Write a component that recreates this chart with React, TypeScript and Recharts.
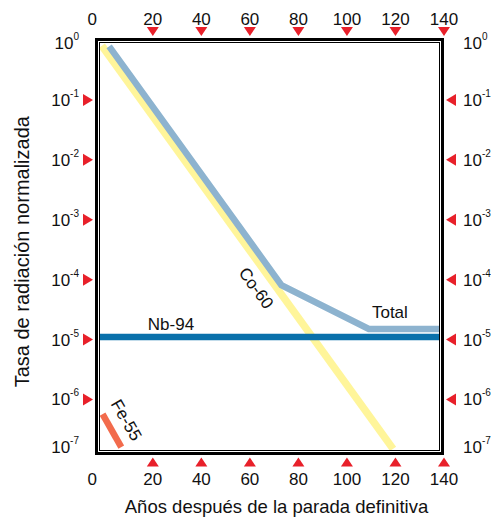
import { LineChart, Line, XAxis, YAxis, ReferenceDot, Label } from "recharts"

// years after final shutdown (x) and normalized rate ticks (y, log)
const years = [0, 20, 40, 60, 80, 100, 120, 140]
const rateTicks = [1, 1e-1, 1e-2, 1e-3, 1e-4, 1e-5, 1e-6, 1e-7]

const co60Years = [-1, 119]
const co60Rate = [0.8, 1.5e-7]
const totalYears = [2, 73, 109, 140]
const totalRate = [0.78, 8.1e-5, 1.5e-5, 1.5e-5]
const nb94Years = [-3, 140]
const nb94Rate = [1.1e-5, 1.1e-5]
const fe55Years = [-0.7, 7]
const fe55Rate = [5.7e-7, 1.6e-7]

const noteText = ["Co-60", "Total", "Nb-94", "Fe-55"]
const noteYears = [62.5, 117.7, 27.5, 9]
const noteRates = [7.2e-5, 2.8e-5, 1.8e-5, 4.5e-7]
const noteAngles = [54, 0, 0, 60]

const RED = "#e8202a"

const toPoints = (xs: number[], ys: number[]) => xs.map((x, i) => ({ x, y: ys[i] }))

function XTick(props: any) {
  const { x, y, payload, side } = props
  const v = payload.value
  const first = v === years[0]
  const lx = first ? x - 12 : x
  if (side === "bottom") {
    return (
      <g>
        {!first && <polygon points={`${x - 6},${y + 7} ${x + 6},${y + 7} ${x},${y - 2}`} fill={RED} />}
        <text x={lx} y={y + 26} textAnchor="middle" fontSize={17} fill="#111">{v}</text>
      </g>
    )
  }
  return (
    <g>
      {!first && <polygon points={`${x - 6},${y - 13} ${x + 6},${y - 13} ${x},${y - 4}`} fill={RED} />}
      <text x={lx} y={y - 15} textAnchor="middle" fontSize={17} fill="#111">{v}</text>
    </g>
  )
}

function YTick(props: any) {
  const { x, y, payload, side } = props
  const v = payload.value
  const exp = Math.round(Math.log10(v))
  const end = v === rateTicks[0] || v === rateTicks[rateTicks.length - 1]
  let ly = y
  if (v === rateTicks[0]) ly = y + 3
  if (v === rateTicks[rateTicks.length - 1]) ly = y - 12
  const label = (tx: number, anchor: string) => (
    <text x={tx} y={ly + 6} textAnchor={anchor} fontSize={17} fill="#111">
      10<tspan dy={-9} fontSize={10}>{exp}</tspan>
    </text>
  )
  if (side === "left") {
    return (
      <g>
        {!end && <polygon points={`${x - 14},${y - 6} ${x - 14},${y + 6} ${x - 4},${y}`} fill={RED} />}
        {label(x - 18, "end")}
      </g>
    )
  }
  return (
    <g>
      {!end && <polygon points={`${x + 12},${y - 6} ${x + 12},${y + 6} ${x + 2},${y}`} fill={RED} />}
      {label(x + 19, "start")}
    </g>
  )
}

export default function App() {
  return (
    <div style={{ position: "absolute", left: 0, top: 0, width: 491, height: 517, background: "#fff", fontFamily: "'Liberation Sans', Arial, sans-serif" }}>
      <LineChart width={491} height={517} margin={{ top: 39, right: 46, bottom: 56.6, left: 96 }}>
        <XAxis xAxisId="b" dataKey="x" type="number" domain={[-3, 140]} ticks={years} allowDataOverflow
          height={1} tickSize={0} tickMargin={0} axisLine={false} tickLine={false} interval={0}
          tick={(p: any) => <XTick {...p} side="bottom" />}>
          <Label content={(p: any) => {
            const vb = p.viewBox
            return <text x={vb.x + vb.width / 2 + 6} y={513} textAnchor="middle" fontSize={18.5} fill="#111">Años después de la parada definitiva</text>
          }} />
        </XAxis>
        <XAxis xAxisId="t" dataKey="x" orientation="top" type="number" domain={[-3, 140]} ticks={years} allowDataOverflow
          height={1} tickSize={0} tickMargin={0} axisLine={false} tickLine={false} interval={0}
          tick={(p: any) => <XTick {...p} side="top" />} />
        <YAxis yAxisId="l" type="number" scale="log" domain={[1e-7, 1]} ticks={rateTicks} allowDataOverflow
          width={1} tickSize={0} tickMargin={0} axisLine={false} tickLine={false} interval={0}
          tick={(p: any) => <YTick {...p} side="left" />}>
          <Label content={(p: any) => {
            const vb = p.viewBox
            const cx = 22
            const cy = vb.y + vb.height / 2 + 2
            return <text x={cx} y={cy} transform={`rotate(-90 ${cx} ${cy})`} textAnchor="middle" dominantBaseline="central" fontSize={20} fill="#111">Tasa de radiación normalizada</text>
          }} />
        </YAxis>
        <YAxis yAxisId="r" orientation="right" type="number" scale="log" domain={[1e-7, 1]} ticks={rateTicks} allowDataOverflow
          width={1} tickSize={0} tickMargin={0} axisLine={false} tickLine={false} interval={0}
          tick={(p: any) => <YTick {...p} side="right" />} />

        <Line xAxisId="b" yAxisId="l" data={toPoints(co60Years, co60Rate)} dataKey="y" stroke="#fff59a" strokeWidth={7.5} dot={false} isAnimationActive={false} />
        <Line xAxisId="b" yAxisId="l" data={toPoints(totalYears, totalRate)} dataKey="y" stroke="#8db3cf" strokeWidth={6.5} dot={false} isAnimationActive={false} />
        <Line xAxisId="b" yAxisId="l" data={toPoints(nb94Years, nb94Rate)} dataKey="y" stroke="#0a71ab" strokeWidth={6.5} dot={false} isAnimationActive={false} />
        <Line xAxisId="t" yAxisId="r" data={toPoints(fe55Years, fe55Rate)} dataKey="y" stroke="#f26b4c" strokeWidth={6.5} dot={false} isAnimationActive={false} />

        {noteText.map((t, i) => (
          <ReferenceDot key={t} xAxisId="b" yAxisId="l" x={noteYears[i]} y={noteRates[i]} r={1}
            shape={(p: any) => (
              <text x={p.cx} y={p.cy} transform={`rotate(${noteAngles[i]} ${p.cx} ${p.cy})`} textAnchor="middle" dominantBaseline="central" fontSize={17} fill="#111">{t}</text>
            )} />
        ))}
      </LineChart>
      <div style={{ position: "absolute", left: 99, top: 42, width: 341, height: 409, boxSizing: "border-box", border: "1px solid #000", boxShadow: "0 0 0 1px #fff, 0 0 0 4px #000", pointerEvents: "none" }} />
    </div>
  )
}
